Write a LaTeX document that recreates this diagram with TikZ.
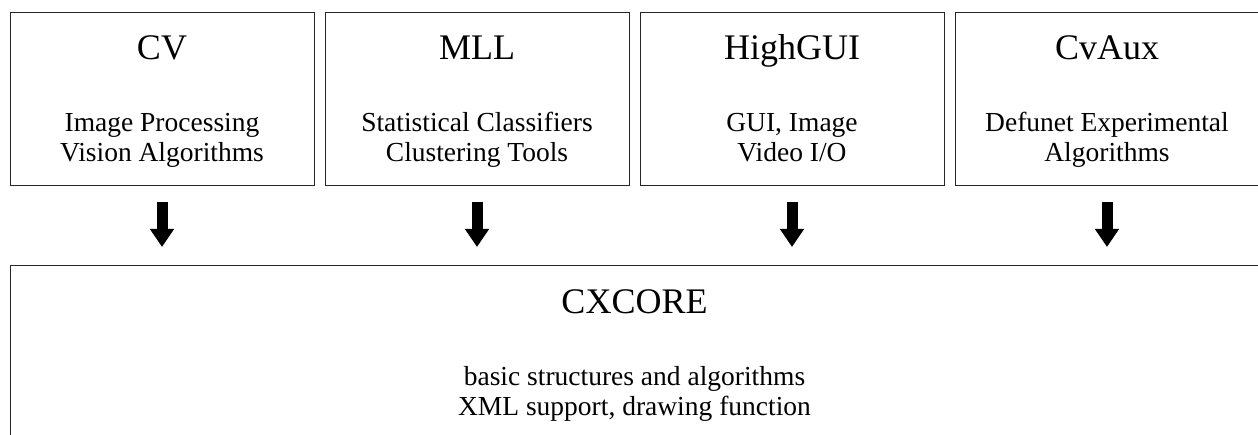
\documentclass[tikz,border=0pt]{standalone}
\usepackage{fontspec}
\setmainfont{Liberation Serif}
\usetikzlibrary{arrows.meta,positioning}

\begin{document}
\begin{tikzpicture}
[x=1pt, y=-1pt, black!85, text=black, line width=0.9pt,
module/.style = {rectangle, draw, outer sep=0pt, minimum width=304pt, minimum height=173pt, anchor=north west},
title/.style = {font=\fontsize{36}{40}\selectfont, anchor=base, inner sep=0pt},
duty/.style = {font=\fontsize{27.5}{30}\selectfont, align=center, anchor=base, inner sep=0pt},
down arrow/.style = {black, line width=11pt, -{Triangle[width=23pt, length=18pt]}}]
\clip (0,0) rectangle (1258,435);
\node[module] (cv) at (10,12) {};
\node[module, right=11pt of cv] (mll) {};
\node[module, right=11pt of mll] (highgui) {};
\node[module, right=11pt of highgui] (cvaux) {};
\node[module, minimum width=1249pt, minimum height=200pt] (core) at (10,265) {};

\node[title] (cv title) at ([yshift=-48pt]cv.north) {CV};
\node[title] (mll title) at ([yshift=-48pt]mll.north) {MLL};
\node[title] (highgui title) at ([yshift=-48pt]highgui.north) {HighGUI};
\node[title] (cvaux title) at ([yshift=-48pt]cvaux.north) {CvAux};
\node[title] (core title) at ([yshift=-49pt]core.north) {CXCORE};

% base of a two-line node is its last line
\node[duty] (cv text) at ([yshift=-150pt]cv.north) {Image Processing\\Vision Algorithms};
\node[duty] (mll text) at ([yshift=-150pt]mll.north) {Statistical Classifiers\\Clustering Tools};
\node[duty] (highgui text) at ([yshift=-150pt]highgui.north) {GUI, Image\\Video I/O};
\node[duty] (cvaux text) at ([yshift=-150pt]cvaux.north) {Defunet Experimental\\Algorithms};
\node[duty] (core text) at ([yshift=-150pt]core.north) {basic structures and algorithms\\XML support, drawing function};

\foreach \m in {cv, mll, highgui, cvaux}
  \draw[down arrow] ([yshift=-17pt]\m.south) -- ([yshift=18pt]\m.south |- core.north);
\end{tikzpicture}
\end{document}
